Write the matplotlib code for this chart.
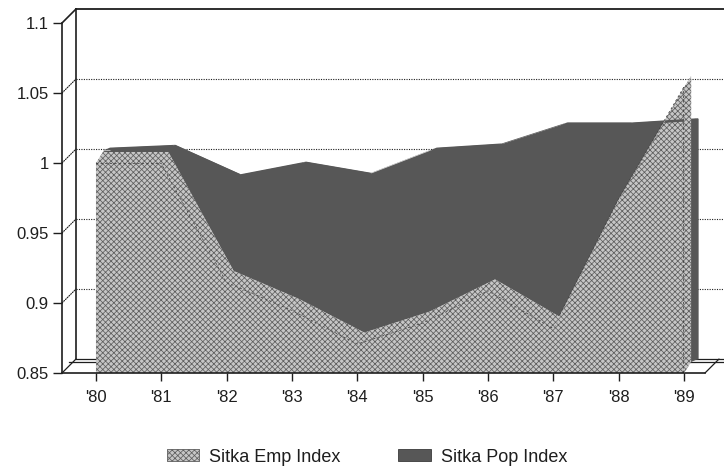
import matplotlib
matplotlib.use("Agg")
import matplotlib.pyplot as plt
import numpy as np
from matplotlib.patches import ConnectionPatch, Patch, Polygon
from matplotlib.transforms import ScaledTranslation, IdentityTransform

plt.rcParams['font.family'] = ['Liberation Sans', 'DejaVu Sans']

# Sitka indices, 1980-1989
years = ["'80", "'81", "'82", "'83", "'84", "'85", "'86", "'87", "'88", "'89"]
emp_index = [1.000, 1.000, 0.915, 0.895, 0.871, 0.886, 0.909, 0.882, 0.974, 1.054]
pop_index = [1.001, 1.003, 0.982, 0.991, 0.983, 1.001, 1.004, 1.019, 1.019, 1.022]
y_ticks = [0.85, 0.9, 0.95, 1.0, 1.05, 1.1]
y_tick_labels = ["0.85", "0.9", "0.95", "1", "1.05", "1.1"]
series_names = ["Sitka Emp Index", "Sitka Pop Index"]

EMP_FACE = "#c6c6c6"
EMP_HATCH = "#5e5e5e"
POP_FACE = "#575757"
INK = "#1e1e1e"

W, H = 724, 469
fig = plt.figure(figsize=(W / 100, H / 100), dpi=100)
plt.rcParams['hatch.linewidth'] = 0.55
plt.rcParams['hatch.color'] = EMP_HATCH

ax = fig.add_axes([62 / W, 96 / H, 643 / W, 350 / H])
x = np.arange(len(years))
ax.set_xlim(-0.52, 9.32)
ax.set_ylim(y_ticks[0], y_ticks[-1])
ax.patch.set_visible(False)

# depth offsets (inches): back wall, and the boundary between the two rows
back = ax.transData + ScaledTranslation(0.14, 0.14, fig.dpi_scale_trans)
mid = ax.transData + ScaledTranslation(0.07, 0.11, fig.dpi_scale_trans)

x_far = 9.40
x_left = ax.get_xlim()[0]
x_right = ax.get_xlim()[1]
dots = (0, (1, 1.2))

# back wall: gridlines, left edge, top edge
for v in y_ticks[1:-1]:
    ax.plot([x_left, x_far], [v, v], transform=back, color=INK, lw=0.8,
            ls=dots, clip_on=False, zorder=1)
    ax.add_artist(ConnectionPatch((x_left, v), (x_left, v), coordsA=ax.transData,
                                  coordsB=back, color=INK, lw=0.8, ls=dots, zorder=1))
ax.plot([x_left, x_left], [y_ticks[0], y_ticks[-1]], transform=back, color=INK,
        lw=1.2, clip_on=False, zorder=1)
ax.plot([x_left, x_far + 0.3], [y_ticks[-1], y_ticks[-1]], transform=back, color=INK,
        lw=1.3, clip_on=False, zorder=1)
ax.add_artist(ConnectionPatch((x_left, y_ticks[-1]), (x_left, y_ticks[-1]),
                              coordsA=ax.transData, coordsB=back, color=INK, lw=1.2, zorder=1))
# floor slab
for t in (back, mid):
    ax.plot([x_left, x_far + 0.3], [y_ticks[0], y_ticks[0]], transform=t, color=INK,
            lw=0.9, clip_on=False, zorder=1)
for xe in (x_left, x_right):
    ax.add_artist(ConnectionPatch((xe, y_ticks[0]), (xe, y_ticks[0]),
                                  coordsA=ax.transData, coordsB=back, color=INK, lw=0.9, zorder=1))

fig.canvas.draw()


def extrude(values, t_front, t_back, z, **kw):
    """Draw an area series as a slab running from t_front to t_back."""
    base = y_ticks[0]
    ax.fill_between(x, base, values, transform=t_back, lw=0, zorder=z, clip_on=False, **kw)
    ax.fill_between(x, base, values, transform=t_front, lw=0, zorder=z, clip_on=False, **kw)
    pts = np.column_stack([x, values])
    f = t_front.transform(pts)
    b = t_back.transform(pts)
    for i in range(len(x) - 1):
        quad = np.array([f[i], f[i + 1], b[i + 1], b[i]])
        fig.add_artist(Polygon(quad, closed=True, transform=IdentityTransform(),
                               lw=0, zorder=z, **kw))
    # slab end at the last year
    fb = t_front.transform([[x[-1], base]])[0]
    bb = t_back.transform([[x[-1], base]])[0]
    end = np.array([f[-1], b[-1], bb, fb])
    fig.add_artist(Polygon(end, closed=True, transform=IdentityTransform(),
                           lw=0, zorder=z, **kw))


# population row sits behind the employment row
extrude(pop_index, mid, back, 2, facecolor=POP_FACE, edgecolor=POP_FACE)
extrude(emp_index, ax.transData, mid, 3, facecolor=EMP_FACE, edgecolor=EMP_HATCH, hatch="xxxxxx")
ax.plot(x, emp_index, color="#3c3c3c", lw=1.1, ls=(0, (1.5, 1.5)), zorder=4, clip_on=False)
ax.plot([x[-1], x[-1]], [y_ticks[0], emp_index[-1]], color="#3c3c3c", lw=1.1,
        ls=(0, (1.5, 1.5)), zorder=4, clip_on=False)

# front axes
for s in ["top", "right"]:
    ax.spines[s].set_visible(False)
for s in ["left", "bottom"]:
    ax.spines[s].set_color(INK)
    ax.spines[s].set_linewidth(1.2)
    ax.spines[s].set_zorder(5)
ax.set_yticks(y_ticks)
ax.set_yticklabels(y_tick_labels)
ax.set_xticks(x)
ax.set_xticklabels(years)
ax.tick_params(axis="y", length=6.5, width=1.0, pad=3, labelsize=12, colors=INK)
ax.tick_params(axis="x", length=6, width=1.0, pad=6.5, labelsize=12, colors=INK)

handles = [Patch(facecolor=EMP_FACE, edgecolor=EMP_HATCH, hatch="xxxxxx", lw=0.6),
           Patch(facecolor=POP_FACE, edgecolor="#3a3a3a", lw=0.6)]
fig.legend(handles, series_names, loc="center", bbox_to_anchor=(367 / W, 1 - 457 / H),
           ncol=2, frameon=False, fontsize=13, handlelength=1.8, handleheight=0.68,
           handletextpad=0.55, columnspacing=3.2, labelcolor=INK)

fig.savefig("out.png", dpi=100)
